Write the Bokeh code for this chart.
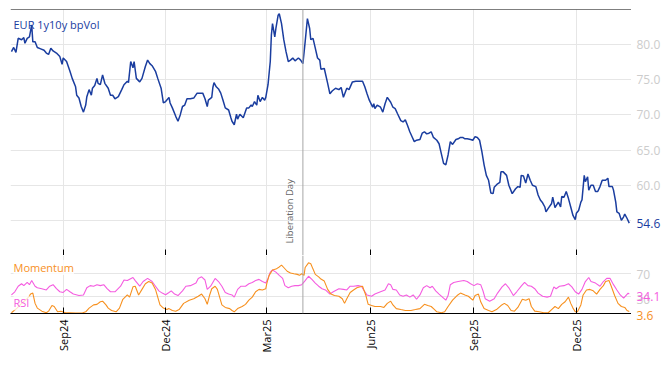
import datetime as dt
from math import pi
from bokeh.plotting import figure
from bokeh.core.properties import value
from bokeh.models import (Range1d, FixedTicker, MonthsTicker, CustomJSTickFormatter,
                          DatetimeTickFormatter, Span, Label)
from bokeh.layouts import column, row
from bokeh.embed import file_html
from bokeh.resources import INLINE

# ---------------- data (days since 2024-07-17) ----------------
START = dt.datetime(2024, 7, 17)

vol_day = [0, 2, 4, 6, 9, 11, 12, 14, 16, 18, 19, 21, 23, 26, 29, 31, 33, 35, 37, 40,
           43, 45, 46, 49, 52, 54, 57, 58, 60, 62, 64, 66, 67, 69, 71, 72, 74, 76, 77, 79,
           81, 83, 86, 88, 90, 92, 95, 98, 100, 103, 104, 106, 108, 109, 111, 114, 116, 119, 121, 123,
           125, 128, 130, 133, 135, 137, 140, 141, 143, 146, 148, 150, 152, 154, 156, 159, 162, 165, 168, 170,
           172, 174, 175, 178, 179, 180, 182, 184, 186, 188, 190, 193, 195, 196, 198, 200, 201, 203, 206, 209,
           211, 213, 214, 216, 218, 219, 221, 223, 225, 226, 228, 230, 231, 232, 234, 235, 237, 238, 240, 242,
           244, 246, 248, 250, 252, 255, 257, 259, 261, 263, 265, 266, 268, 270, 272, 274, 275, 278, 281, 283,
           285, 288, 291, 293, 295, 298, 300, 303, 306, 309, 312, 314, 316, 318, 321, 322, 323, 325, 328, 330,
           332, 334, 337, 339, 341, 343, 346, 348, 350, 352, 354, 356, 358, 360, 363, 365, 367, 369, 371, 373,
           375, 378, 380, 382, 384, 386, 388, 390, 392, 395, 397, 399, 401, 403, 405, 408, 410, 412, 414, 416,
           418, 420, 422, 424, 426, 428, 429, 432, 434, 435, 437, 440, 442, 445, 448, 450, 452, 453, 455, 457,
           459, 461, 463, 466, 468, 470, 472, 474, 475, 477, 480, 481, 483, 486, 488, 489, 491, 493, 495, 497,
           499, 501, 502, 504, 506, 507, 509, 510, 512, 513, 515, 517, 519, 521, 523, 525, 528, 530, 531, 534,
           535, 537, 538, 540, 542, 544, 545, 547, 549]
vol = [79.0, 79.6, 78.9, 80.9, 80.7, 81.0, 80.2, 80.9, 81.1, 82.8, 80.4, 80.4, 79.6, 79.4, 79.2, 78.8, 78.6, 79.5, 79.1, 78.8,
       78.3, 77.2, 78.1, 77.6, 76.2, 75.2, 74.0, 72.8, 72.4, 71.2, 70.4, 71.4, 72.6, 73.6, 72.8, 73.8, 74.2, 75.2, 74.5, 74.3,
       75.7, 74.5, 73.8, 72.8, 72.8, 72.3, 72.6, 73.6, 74.3, 74.8, 74.6, 77.6, 76.7, 77.6, 75.2, 74.7, 75.2, 76.9, 77.8, 77.3,
       77.0, 76.2, 75.2, 73.8, 71.7, 71.9, 72.5, 71.7, 71.0, 69.8, 69.1, 70.0, 71.2, 71.4, 72.3, 72.3, 72.4, 73.1, 73.1, 73.1,
       72.3, 71.2, 72.1, 72.5, 73.9, 74.6, 74.0, 73.7, 73.1, 72.1, 71.0, 70.7, 69.6, 69.1, 68.6, 70.1, 69.4, 70.1, 69.6, 71.0,
       71.0, 71.4, 71.2, 71.9, 71.4, 72.8, 71.9, 72.5, 72.1, 72.5, 74.3, 77.6, 81.4, 83.0, 81.1, 82.3, 84.2, 84.4, 83.0, 80.7,
       79.0, 77.6, 77.8, 78.1, 77.7, 78.1, 77.8, 77.3, 80.4, 83.7, 82.3, 80.7, 80.9, 79.5, 78.1, 77.8, 76.5, 76.6, 74.5, 73.0,
       73.4, 73.8, 73.6, 73.9, 72.5, 73.8, 73.6, 74.7, 74.8, 74.8, 74.8, 74.0, 73.0, 72.1, 71.1, 71.6, 70.9, 71.4, 71.1, 70.4,
       71.6, 72.5, 71.8, 71.1, 70.9, 70.2, 69.2, 69.0, 69.3, 68.5, 67.6, 66.9, 66.2, 66.4, 66.5, 67.4, 67.6, 67.3, 67.4, 67.6,
       66.8, 66.4, 65.9, 64.5, 63.1, 62.9, 64.3, 66.2, 65.8, 66.5, 66.6, 66.8, 66.8, 66.6, 66.6, 66.5, 66.4, 66.9, 66.8, 66.4,
       64.8, 62.9, 61.4, 60.7, 58.9, 58.8, 59.7, 60.2, 60.4, 61.9, 61.9, 61.4, 60.0, 58.8, 59.5, 59.8, 59.7, 61.4, 61.3, 60.3,
       61.6, 60.7, 60.0, 59.8, 58.6, 57.9, 57.5, 56.9, 56.2, 56.7, 57.4, 58.3, 56.8, 57.6, 56.9, 58.4, 58.3, 59.1, 58.1, 56.9,
       55.7, 55.1, 56.0, 56.4, 57.6, 57.9, 61.4, 60.5, 61.2, 59.3, 60.0, 60.0, 59.1, 59.1, 59.8, 60.7, 60.7, 61.0, 59.8, 59.8,
       59.3, 57.6, 56.2, 56.0, 55.0, 55.5, 55.9, 55.3, 54.6]

rsi_day = [0, 3, 6, 9, 11, 14, 16, 18, 21, 23, 27, 31, 34, 37, 40, 43, 46, 49, 52, 55,
           60, 64, 67, 70, 73, 76, 79, 82, 85, 88, 92, 97, 100, 103, 108, 110, 114, 117, 121, 125,
           128, 131, 134, 137, 140, 142, 145, 148, 152, 155, 159, 164, 166, 169, 172, 174, 177, 181, 184, 187,
           190, 193, 196, 198, 201, 204, 208, 211, 214, 217, 220, 223, 226, 228, 230, 232, 235, 238, 241, 243,
           246, 249, 252, 255, 258, 261, 264, 267, 270, 273, 276, 279, 283, 286, 291, 295, 298, 301, 304, 308,
           311, 313, 316, 320, 323, 328, 332, 335, 337, 339, 342, 345, 348, 351, 354, 357, 360, 363, 366, 369,
           372, 374, 377, 380, 383, 386, 388, 390, 393, 397, 402, 405, 408, 411, 414, 417, 419, 421, 425, 429,
           432, 436, 439, 442, 446, 449, 453, 456, 459, 462, 465, 468, 472, 476, 479, 482, 484, 487, 491, 495,
           498, 501, 504, 507, 510, 513, 515, 519, 523, 526, 529, 532, 535, 538, 541, 544, 546, 548, 549]
rsi = [32.6, 38.2, 48.0, 52.3, 49.0, 54.6, 50.7, 57.9, 48.0, 45.2, 43.6, 41.4, 48.0, 50.7, 43.6, 38.2, 37.0, 42.4, 38.2, 34.2,
       31.6, 32.6, 45.2, 49.0, 48.0, 50.7, 49.0, 50.7, 43.6, 38.2, 38.2, 48.0, 58.9, 57.9, 63.3, 57.9, 48.0, 56.2, 61.7, 56.2,
       48.0, 39.8, 35.9, 33.0, 37.0, 39.8, 34.2, 31.6, 39.8, 48.0, 49.0, 53.5, 61.7, 64.5, 58.9, 42.4, 48.0, 61.7, 56.2, 48.0,
       37.0, 34.2, 32.6, 28.8, 42.4, 48.0, 48.0, 52.3, 54.6, 57.9, 60.0, 56.2, 53.5, 61.7, 72.7, 76.5, 72.7, 67.1, 61.7, 49.0,
       45.2, 48.0, 49.0, 49.0, 50.7, 57.9, 65.5, 60.0, 53.5, 48.0, 43.6, 41.4, 34.2, 38.2, 43.6, 42.4, 41.4, 48.0, 48.0, 49.0,
       48.0, 41.4, 32.6, 30.4, 34.2, 38.2, 41.4, 52.3, 50.7, 42.4, 41.4, 32.6, 30.4, 32.6, 28.8, 32.6, 25.0, 32.6, 45.2, 49.0,
       45.2, 48.0, 39.8, 34.2, 28.8, 23.4, 31.6, 50.7, 54.6, 56.2, 57.9, 56.2, 52.3, 49.0, 52.3, 50.7, 40.0, 26.0, 21.7, 26.0,
       35.9, 46.9, 52.3, 45.2, 31.6, 38.2, 48.0, 54.6, 49.0, 48.0, 43.6, 35.9, 30.4, 28.8, 30.4, 46.9, 43.6, 48.0, 49.0, 52.3,
       46.9, 38.2, 34.2, 42.4, 56.2, 63.3, 56.2, 53.5, 48.0, 56.2, 61.7, 61.7, 50.7, 41.4, 32.6, 27.1, 31.6, 35.9, 34.1]

mom_day = [0, 5, 9, 14, 17, 19, 21, 23, 27, 31, 33, 36, 38, 41, 44, 48, 52, 57, 63, 66,
           69, 73, 76, 79, 81, 84, 86, 89, 93, 96, 99, 103, 105, 108, 110, 113, 116, 119, 122, 125,
           128, 130, 132, 135, 138, 140, 143, 146, 149, 153, 158, 162, 166, 169, 172, 174, 176, 178, 181, 183,
           185, 187, 190, 194, 196, 198, 201, 205, 208, 211, 214, 217, 220, 223, 226, 227, 229, 232, 235, 238,
           240, 242, 245, 248, 251, 254, 256, 258, 260, 261, 264, 266, 268, 270, 273, 275, 278, 281, 284, 287,
           291, 294, 296, 298, 301, 304, 307, 310, 312, 315, 317, 320, 323, 328, 331, 334, 337, 339, 342, 346,
           350, 355, 359, 363, 367, 370, 373, 376, 378, 382, 385, 388, 392, 396, 399, 403, 406, 410, 412, 415,
           417, 420, 424, 427, 431, 435, 438, 441, 444, 447, 450, 454, 457, 460, 462, 465, 469, 473, 477, 480,
           483, 486, 489, 492, 495, 497, 499, 501, 503, 506, 508, 511, 514, 517, 520, 523, 526, 528, 531, 533,
           536, 539, 542, 545, 547, 549]
mom = [1.3, 9.5, 17.8, 26.0, 34.2, 35.9, 17.8, 9.5, 4.1, 1.3, 4.1, 14.0, 12.3, 3.0, 4.1, 1.3, 1.3, 0.8, 0.8, 3.0,
       9.5, 15.1, 16.1, 20.6, 21.7, 15.1, 9.5, 5.3, 3.0, 9.5, 25.0, 32.6, 28.8, 46.9, 48.0, 32.6, 42.4, 52.3, 56.2, 53.5,
       42.4, 28.8, 15.1, 9.5, 6.9, 8.6, 5.3, 4.1, 6.9, 17.8, 23.4, 26.0, 30.4, 34.2, 26.0, 16.1, 31.6, 43.6, 48.0, 42.4,
       28.8, 15.1, 10.7, 8.6, 5.3, 3.0, 8.6, 12.3, 16.1, 23.4, 28.8, 38.2, 42.4, 41.4, 43.6, 53.5, 67.1, 76.5, 78.1, 81.9,
       85.2, 80.9, 74.3, 71.1, 69.9, 68.8, 67.1, 69.9, 67.1, 80.9, 89.1, 87.5, 78.1, 68.8, 64.5, 60.5, 57.0, 42.4, 34.2, 31.6,
       30.4, 26.0, 17.8, 26.0, 37.0, 41.4, 45.2, 46.9, 48.0, 31.6, 16.1, 14.0, 12.3, 12.3, 10.7, 17.8, 21.7, 15.1, 8.6, 6.9,
       5.3, 5.3, 6.9, 8.6, 16.1, 14.0, 12.3, 6.9, 3.0, 1.3, 3.0, 12.3, 23.4, 31.6, 35.9, 32.6, 30.4, 23.4, 31.6, 34.2,
       20.6, 8.6, 5.3, 3.0, 6.9, 14.0, 17.8, 14.0, 5.3, 4.1, 10.7, 25.0, 23.4, 26.0, 12.3, 4.1, 3.0, 1.3, 1.3, 6.9,
       12.3, 8.6, 16.1, 20.6, 28.8, 17.8, 9.5, 3.0, 3.0, 15.1, 32.6, 41.4, 42.4, 39.8, 34.2, 42.4, 49.0, 56.2, 57.9, 48.0,
       31.6, 17.8, 12.3, 10.7, 5.3, 3.6]

vol_grid_ticks = [55, 60, 65, 70, 75, 80]
vol_label_ticks = [60, 65, 70, 75, 80]
osc_ticks = [30, 70]

event_date = dt.datetime(2025, 4, 2)
event_name = "Liberation Day"

# ---------------- styling ----------------
BLUE = "#1a3d9f"
PINK = "#f55ce0"
ORANGE = "#f7901e"
GRID = "#e6e6e6"
TICKLBL = "#cccccc"
FONT = "Open Sans"

VOL_LO, VOL_HI = 50, 85
OSC_LO, OSC_HI = 0, 102
TOP_H, OSC_FRAME_H, BOT_AXIS_H, TAG_W = 246, 62, 38, 37


def dates(days):
    return [START + dt.timedelta(days=d) for d in days]


x_start = START - dt.timedelta(hours=20)
x_end = START + dt.timedelta(days=551)
x_range = Range1d(x_start, x_end)


def quarter_ticker():
    return MonthsTicker(months=[2, 5, 8, 11])


def base_fig(width, height, xr, yr, top, bottom, left, **kw):
    f = figure(width=width, height=height, x_range=xr, y_range=yr,
               toolbar_location=None, output_backend="svg",
               min_border_left=left, min_border_right=0,
               min_border_top=top, min_border_bottom=bottom, **kw)
    f.outline_line_color = None
    return f


def tag_text(f, ys, texts, color):
    f.text(x=[0] * len(ys), y=ys, text=texts, x_offset=5, text_align="left",
           text_baseline="middle", text_color=color, text_font=value(FONT),
           text_font_size="12px")


# ---------------- top panel ----------------
vol_range = Range1d(VOL_LO, VOL_HI)
p1 = base_fig(631, TOP_H + 9, x_range, vol_range, 9, 0, 10,
              x_axis_type="datetime", y_axis_location=None)
p1.xgrid.ticker = quarter_ticker()
p1.ygrid.ticker = FixedTicker(ticks=vol_grid_ticks)
p1.xgrid.grid_line_color = GRID
p1.ygrid.grid_line_color = GRID

xa = p1.xaxis[0]
xa.ticker = quarter_ticker()
xa.formatter = CustomJSTickFormatter(code="return ''")
xa.major_tick_in = 6
xa.major_tick_out = 0
xa.minor_tick_in = 0
xa.minor_tick_out = 0
xa.major_label_text_font_size = "0px"
xa.major_label_standoff = 0
xa.axis_line_color = "black"
xa.major_tick_line_color = "black"

p1.add_layout(Span(location=VOL_HI, dimension="width", line_color="black", line_width=1))
p1.add_layout(Span(location=VOL_LO, dimension="width", line_color="black", line_width=1))
p1.add_layout(Span(location=event_date, dimension="height", line_color="#a6a6a6", line_width=1))
p1.line(dates(vol_day), vol, line_color=BLUE, line_width=1.5)

p1.add_layout(Label(x=x_start, y=VOL_HI, x_offset=3, y_offset=-7, text="EUR 1y10y bpVol",
                    text_color=BLUE, text_font=FONT, text_font_size="11px", text_baseline="top"))
p1.add_layout(Label(x=event_date, y=VOL_LO, x_offset=-7, y_offset=12, text=event_name, angle=pi / 2,
                    text_color="#666666", text_font=FONT, text_font_size="9.5px",
                    text_align="left", text_baseline="bottom"))

# right-hand tick labels and last-value tag for the top panel
p1r = base_fig(TAG_W, TOP_H + 9, Range1d(0, 1), vol_range, 9, 0, 0,
               x_axis_location=None, y_axis_location=None)
p1r.xgrid.visible = False
p1r.ygrid.visible = False
tag_text(p1r, vol_label_ticks, [f"{t:.1f}" for t in vol_label_ticks], TICKLBL)
tag_text(p1r, [vol[-1]], [f"{vol[-1]:.1f}"], BLUE)

# ---------------- bottom panel ----------------
p2 = base_fig(631, OSC_FRAME_H + BOT_AXIS_H, x_range, Range1d(OSC_LO, OSC_HI), 0, BOT_AXIS_H, 10,
              x_axis_type="datetime", y_axis_location=None)
p2.xgrid.ticker = quarter_ticker()
p2.ygrid.ticker = FixedTicker(ticks=osc_ticks)
p2.xgrid.grid_line_color = GRID
p2.ygrid.grid_line_color = GRID

xb = p2.xaxis[0]
xb.ticker = quarter_ticker()
xb.formatter = DatetimeTickFormatter(months="%b%y", days="%b%y")
xb.major_tick_in = 6
xb.major_tick_out = 0
xb.minor_tick_in = 0
xb.minor_tick_out = 0
xb.major_label_orientation = pi / 2
xb.major_label_text_font = FONT
xb.major_label_text_font_size = "11px"
xb.major_label_text_color = "black"
xb.major_label_standoff = 6
xb.axis_line_color = "black"
xb.major_tick_line_color = "black"

p2.add_layout(Span(location=OSC_LO, dimension="width", line_color="black", line_width=1))
p2.add_layout(Span(location=event_date, dimension="height", line_color="#a6a6a6", line_width=1))
p2.line(dates(rsi_day), rsi, line_color=PINK, line_width=1.1)
p2.line(dates(mom_day), mom, line_color=ORANGE, line_width=1.1)

p2.add_layout(Label(x=x_start, y=81, x_offset=3, text="Momentum", text_color=ORANGE,
                    text_font=FONT, text_font_size="11px", text_baseline="middle",
                    background_fill_color="white", background_fill_alpha=0.8))
p2.add_layout(Label(x=x_start, y=19, x_offset=3, text="RSI", text_color=PINK,
                    text_font=FONT, text_font_size="11px", text_baseline="middle",
                    background_fill_color="white", background_fill_alpha=0.75))

# right-hand tick labels and last-value tags for the oscillator panel
# (frame extended downward with the same scale so the lowest tag is not cut)
tag_frame_h = OSC_FRAME_H + 18
osc_tag_lo = OSC_HI - (OSC_HI - OSC_LO) * tag_frame_h / OSC_FRAME_H
p2r = base_fig(TAG_W, OSC_FRAME_H + BOT_AXIS_H, Range1d(0, 1), Range1d(osc_tag_lo, OSC_HI),
               0, OSC_FRAME_H + BOT_AXIS_H - tag_frame_h, 0,
               x_axis_location=None, y_axis_location=None)
p2r.xgrid.visible = False
p2r.ygrid.visible = False
tag_text(p2r, osc_ticks, [str(t) for t in osc_ticks], TICKLBL)
tag_text(p2r, [rsi[-1]], [f"{rsi[-1]:.1f}"], PINK)
tag_text(p2r, [mom[-1]], [f"{mom[-1]:.1f}"], ORANGE)

layout = row(column(p1, p2, spacing=0), column(p1r, p2r, spacing=0), spacing=0)
open("out.html", "w").write(file_html(layout, INLINE))
